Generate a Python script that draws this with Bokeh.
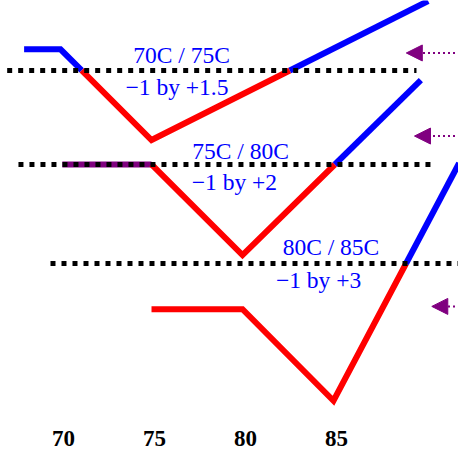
import numpy as np
from bokeh.plotting import figure
from bokeh.models import Arrow, NormalHead, Range1d, ColumnDataSource
from bokeh.core.properties import value
from bokeh.embed import file_html
from bokeh.resources import INLINE

# ---------------- data ----------------
strike_ticks = [70, 75, 80, 85]
tick_labels = ["70", "75", "80", "85"]

spread_names = ["70C / 75C", "75C / 80C", "80C / 85C"]
spread_ratios = ["\u22121 by +1.5", "\u22121 by +2", "\u22121 by +3"]

# payoff profiles (strike, P&L) for each spread
s1_strikes = [68.0, 70, 75, 90.2]
s1_pnl = [1.2, 1.2, -3.95, 3.95]
s2_strikes = [70.1, 75, 80, 89.8]
s2_pnl = [0.0, 0.0, -5.15, 4.8]
s3_strikes = [75, 80, 85, 91.9]
s3_pnl = [-2.6, -2.6, -7.8, 5.7]

# vertical level of each spread's zero-P&L line and its extent
zero_levels = [21.705, 16.364, 10.739]
zero_from = [67.07, 67.69, 69.45]
zero_to = [89.56, 90.33, 92.5]

# right-hand arrows
arrow_tip = [89.0, 89.45, 90.4]
arrow_level = [22.70, 17.98, 8.30]

# label placement (strike, level)
name_x = [76.65, 79.89, 84.86]
name_y = [22.13, 16.65, 11.25]
ratio_x = [76.4, 79.56, 84.18]
ratio_y = [20.34, 14.89, 9.375]
tick_y = 0.40

BLUE = "#0000ff"
RED = "#ff0000"
PURPLE = "#800080"


def split_profile(strikes, pnl, base):
    """Split a profile into coloured polylines: above zero blue, below red, on zero purple."""
    xs = [strikes[0]]
    ys = [pnl[0]]
    for i in range(len(strikes) - 1):
        x0, y0, x1, y1 = strikes[i], pnl[i], strikes[i + 1], pnl[i + 1]
        if y0 * y1 < 0:
            xc = x0 + (x1 - x0) * (-y0) / (y1 - y0)
            xs.append(xc)
            ys.append(0.0)
        xs.append(x1)
        ys.append(y1)
    pieces = []
    for i in range(len(xs) - 1):
        mid = (ys[i] + ys[i + 1]) / 2
        col = BLUE if mid > 1e-9 else (RED if mid < -1e-9 else PURPLE)
        if pieces and pieces[-1][0] == col:
            pieces[-1][1].append(xs[i + 1])
            pieces[-1][2].append(ys[i + 1] + base)
        else:
            pieces.append([col, [xs[i], xs[i + 1]], [ys[i] + base, ys[i + 1] + base]])
    return pieces


p = figure(width=458, height=452,
           x_range=Range1d(66.703, 91.868), y_range=Range1d(0, 25.682),
           output_backend="svg", toolbar_location=None, min_border=0)
p.xaxis.visible = False
p.yaxis.visible = False
p.grid.visible = False
p.outline_line_color = None
p.background_fill_color = "white"

profiles = [(s1_strikes, s1_pnl), (s2_strikes, s2_pnl), (s3_strikes, s3_pnl)]
mx, my, mc = [], [], []
for (st, pl), base in zip(profiles, zero_levels):
    for col, xx, yy in split_profile(st, pl, base):
        mx.append(xx)
        my.append(yy)
        mc.append(col)

p.multi_line(xs="xs", ys="ys", line_color="color",
             source=ColumnDataSource(dict(xs=mx, ys=my, color=mc)),
             line_width=6, line_join="miter", line_cap="butt")

# zero lines (dotted)
p.multi_line(xs=[[a, b] for a, b in zip(zero_from, zero_to)],
             ys=[[lv, lv] for lv in zero_levels],
             line_color="black", line_width=5, line_dash="5 6", line_cap="butt")

# labels
p.text(x=name_x, y=name_y, text=spread_names, text_font=value("Liberation Serif"),
       text_font_size="23.5px", text_color=BLUE, text_align="center",
       text_baseline="alphabetic", y_offset=-8)
p.text(x=ratio_x, y=ratio_y, text=spread_ratios, text_font=value("Liberation Serif"),
       text_font_size="23.5px", text_color=BLUE, text_align="center",
       text_baseline="alphabetic", y_offset=-8)

# strike labels
p.text(x=strike_ticks, y=[tick_y] * len(strike_ticks), text=tick_labels,
       text_font=value("Liberation Serif"), text_font_style="bold",
       text_font_size="23px", text_color="black", text_align="center",
       text_baseline="alphabetic", x_offset=3, y_offset=-7)

# arrows
for tip, lvl in zip(arrow_tip, arrow_level):
    p.add_layout(Arrow(end=NormalHead(size=16, fill_color=PURPLE, line_color=PURPLE, line_width=1),
                       x_start=92.5, y_start=lvl, x_end=tip, y_end=lvl,
                       line_color=PURPLE, line_width=2, line_dash="2 3"))

open("out.html", "w").write(file_html(p, INLINE))
